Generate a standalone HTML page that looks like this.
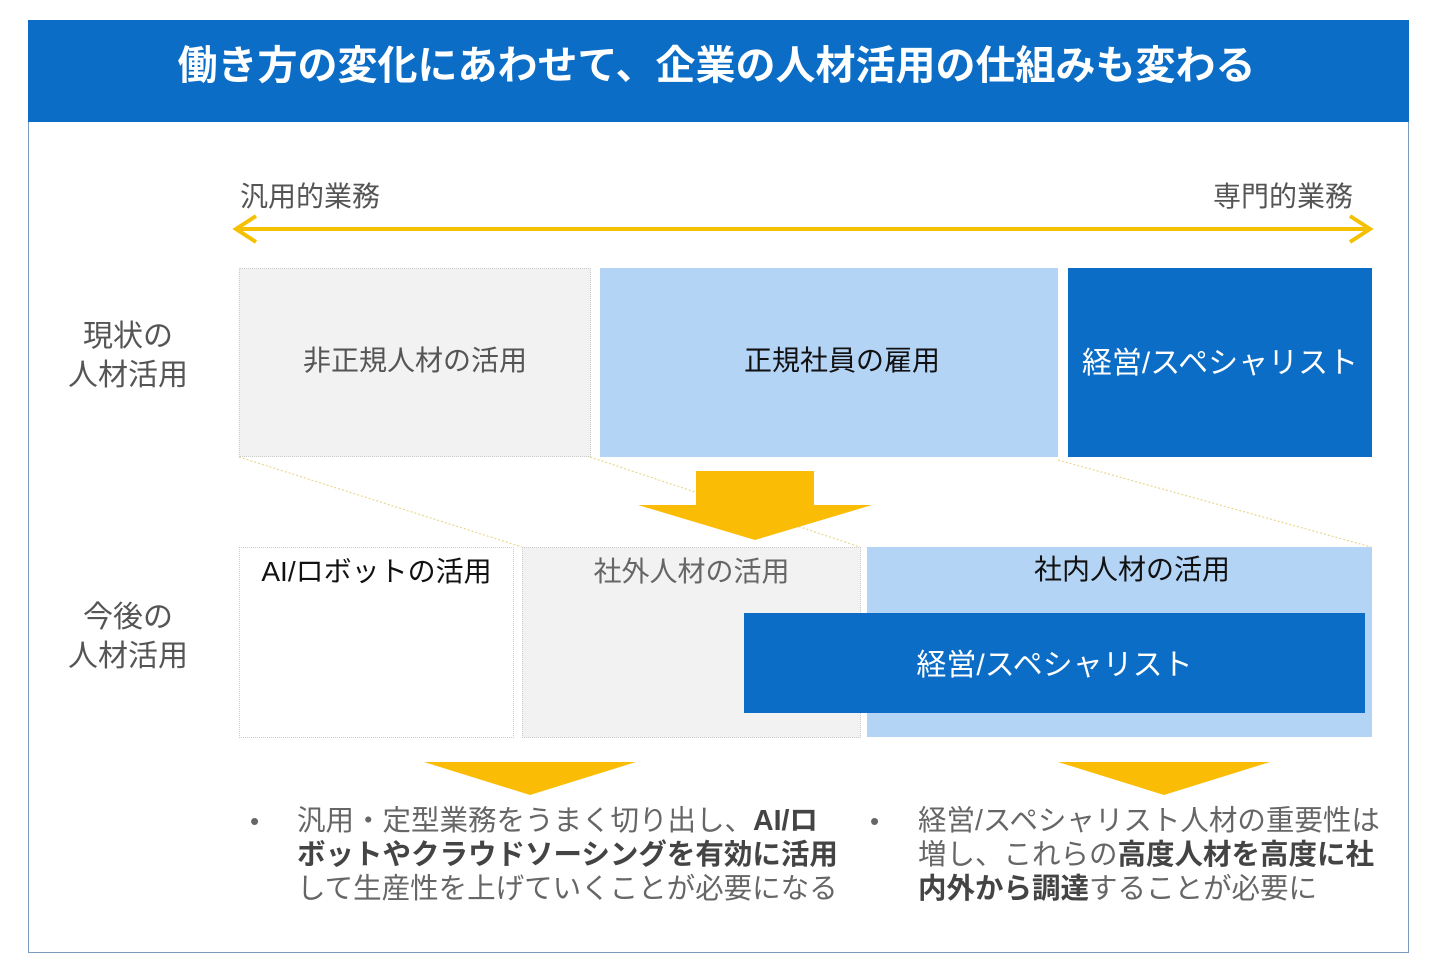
<!DOCTYPE html><html><head><meta charset="utf-8"><style>
body{margin:0;width:1440px;height:969px;background:#fff;position:relative;overflow:hidden;font-family:"Liberation Sans","Noto Sans CJK JP",sans-serif;}
div{position:absolute;box-sizing:border-box}
.t{white-space:nowrap}
</style></head><body>
<div style="left:28px;top:20px;width:1381px;height:933px;border:1.5px solid #7a9cc0"></div>
<div style="left:28px;top:20px;width:1381px;height:102px;background:#0b6dc6"></div>
<div class="t" style="left:26px;top:41px;width:1381px;text-align:center;color:#fff;font-size:40px;font-weight:bold;line-height:50px">働き方の変化にあわせて、企業の人材活用の仕組みも変わる</div>
<div class="t" style="left:240px;top:175px;font-size:28px;color:#555">汎用的業務</div>
<div class="t" style="left:1213px;top:175px;font-size:28px;color:#555">専門的業務</div>
<svg style="position:absolute;left:0;top:0" width="1440" height="969">
<line x1="240" y1="229" x2="1366" y2="229" stroke="#f5c000" stroke-width="4"/>
<polyline points="256,216 236,229 256,242" fill="none" stroke="#f5c000" stroke-width="4"/>
<polyline points="1350,216 1370,229 1350,242" fill="none" stroke="#f5c000" stroke-width="4"/>
<line x1="239" y1="457" x2="522" y2="547" stroke="#e8d890" stroke-width="1.2" stroke-dasharray="2 2"/>
<line x1="590" y1="457" x2="860" y2="547" stroke="#e8d890" stroke-width="1.2" stroke-dasharray="2 2"/>
<line x1="1058" y1="460" x2="1371" y2="547" stroke="#e8d890" stroke-width="1.2" stroke-dasharray="2 2"/>
<polygon points="696,471 814,471 814,505 872,505 755,540 638,505 696,505" fill="#fbbc05"/>
<polygon points="424,762 636,762 530,795" fill="#fbbc05"/>
<polygon points="1058,762 1270,762 1164,795" fill="#fbbc05"/>
</svg>
<div class="t" style="left:62px;top:317px;font-size:30px;color:#555;line-height:39px;text-align:center;width:132px">現状の<br>人材活用</div>
<div class="t" style="left:62px;top:598px;font-size:30px;color:#555;line-height:39px;text-align:center;width:132px">今後の<br>人材活用</div>
<div style="left:239px;top:268px;width:352px;height:189px;background:#f2f2f2;border:1px dotted #ccc"></div>
<div class="t" style="left:239px;top:339px;width:352px;text-align:center;font-size:28px;color:#555">非正規人材の活用</div>
<div style="left:600px;top:268px;width:458px;height:189px;background:#b4d4f6"></div>
<div class="t" style="left:600px;top:339px;width:484px;text-align:center;font-size:28px;color:#111">正規社員の雇用</div>
<div style="left:1068px;top:268px;width:304px;height:189px;background:#0b6dc6"></div>
<div class="t" style="left:1068px;top:338px;width:304px;text-align:center;font-size:30px;color:#fff">経営/スペシャリスト</div>
<div style="left:239px;top:547px;width:275px;height:191px;background:#fff;border:1px dotted #ccc"></div>
<div class="t" style="left:239px;top:550px;width:275px;text-align:center;font-size:28px;color:#111">AI/ロボットの活用</div>
<div style="left:522px;top:547px;width:339px;height:191px;background:#f2f2f2;border:1px dotted #ccc"></div>
<div class="t" style="left:522px;top:550px;width:339px;text-align:center;font-size:28px;color:#666">社外人材の活用</div>
<div style="left:867px;top:547px;width:505px;height:190px;background:#b4d4f6"></div>
<div class="t" style="left:867px;top:548px;width:530px;text-align:center;font-size:28px;color:#111">社内人材の活用</div>
<div style="left:744px;top:613px;width:621px;height:100px;background:#0b6dc6"></div>
<div class="t" style="left:744px;top:640px;width:621px;text-align:center;font-size:30px;color:#fff">経営/スペシャリスト</div>
<div class="t" style="left:250px;top:806px;font-size:26px;color:#666">•</div>
<div class="t" style="left:297px;top:804px;font-size:28.5px;line-height:34px;color:#666">汎用・定型業務をうまく切り出し、<b style="color:#444">AI/ロ</b><br><b style="color:#444">ボットやクラウドソーシングを有効に活用</b><br>して生産性を上げていくことが必要になる</div>
<div class="t" style="left:870px;top:806px;font-size:26px;color:#666">•</div>
<div class="t" style="left:918px;top:804px;font-size:28.5px;line-height:34px;color:#666">経営/スペシャリスト人材の重要性は<br>増し、これらの<b style="color:#444">高度人材を高度に社</b><br><b style="color:#444">内外から調達</b>することが必要に</div>
</body></html>
